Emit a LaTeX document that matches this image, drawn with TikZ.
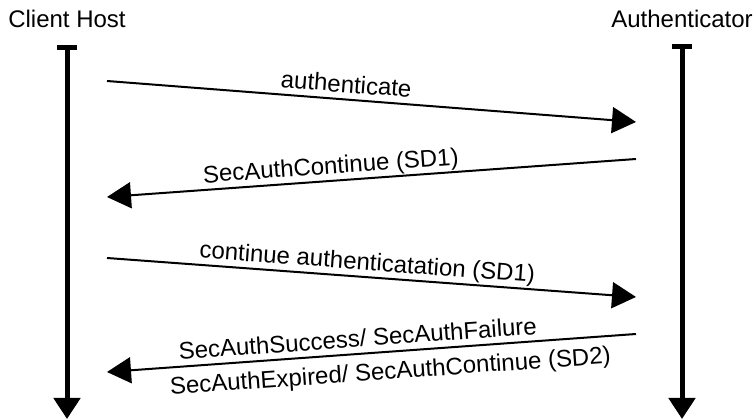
\documentclass[tikz,border=0pt]{standalone}
\usepackage{fontspec}
\setmainfont{Liberation Sans}
\usetikzlibrary{arrows.meta,positioning}

\begin{document}
\begin{tikzpicture}[x=1pt, y=-1pt,
		lifeline/.style={line width=5pt, {Bar[width=20pt]}-{Triangle[length=21pt,width=26pt]}},
		msg/.style={line width=2pt, -{Triangle[length=24pt,width=26pt]}},
		msgback/.style={line width=2pt, {Triangle[length=24pt,width=26pt]}-},
		lbl/.style={font=\fontsize{24}{28}\selectfont, sloped, inner sep=1pt, text depth=5pt}]
		\useasboundingbox (0,0) rectangle (753,419);

		\node[font=\fontsize{24}{28}\selectfont] (client) at (67,19) {Client Host};
		\node[font=\fontsize{24}{28}\selectfont] (auth) at (682,19) {Authenticator};

		\coordinate (clienttop) at (67,45);
		\coordinate (clientend) at (67,419);
		\coordinate (authtop) at (682,44);
		\coordinate (authend) at (682,419);
		\draw[lifeline] (clienttop) -- (clientend);
		\draw[lifeline] (authtop) -- (authend);

		\coordinate (c1) at (107,81);   \coordinate (a1) at (636,122);
		\coordinate (a2) at (636,159);  \coordinate (c2) at (107,197);
		\coordinate (c3) at (107,258);  \coordinate (a3) at (636,297);
		\coordinate (a4) at (636,334);  \coordinate (c4) at (107,372);

		\draw[msg] (c1) -- node[lbl, above, pos=0.45] {authenticate} (a1);
		\draw[msgback] (c2) -- node[lbl, above, pos=0.425] {SecAuthContinue (SD1)} (a2);
		\draw[msg] (c3) -- node[lbl, above, pos=0.49] {continue authenticatation (SD1)} (a3);
		\draw[msgback] (c4) -- node[lbl, above, pos=0.476] {SecAuthSuccess/ SecAuthFailure}
			node[lbl, below, pos=0.533, text depth=0pt, inner sep=9pt] {SecAuthExpired/ SecAuthContinue (SD2)} (a4);
	\end{tikzpicture}
\end{document}
